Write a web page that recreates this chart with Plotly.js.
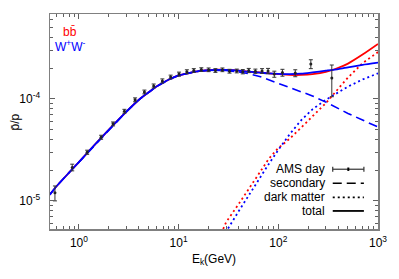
<!DOCTYPE html>
<html><head><meta charset="utf-8">
<script src="https://cdn.plot.ly/plotly-3.0.1.min.js"></script>
<style>html,body{margin:0;padding:0;background:#fff;}#chart{width:399px;height:279px;}</style>
</head><body><div id="chart"></div>
<script>
// AMS data (kinetic energy GeV, pbar/p ratio, error)
const amsE = [0.575, 0.857, 1.21, 1.67, 2.2, 2.86, 3.66, 4.54, 5.62, 6.87, 8.32, 10.1, 12.1, 14.2, 16.9, 20.0, 23.4, 27.5, 32.4, 38.3, 44.0, 50.5, 58.9, 68.7, 78.9, 91.2, 110, 148, 212, 344];
const amsR = [1.2e-5, 2.13e-5, 3.0e-5, 4.21e-5, 5.69e-5, 7.57e-5, 9.8e-5, 1.17e-4, 1.34e-4, 1.5e-4, 1.64e-4, 1.75e-4, 1.85e-4, 1.9e-4, 1.94e-4, 1.93e-4, 1.9e-4, 1.93e-4, 1.87e-4, 1.88e-4, 1.85e-4, 1.9e-4, 1.87e-4, 1.88e-4, 1.88e-4, 1.75e-4, 1.81e-4, 1.79e-4, 2.2e-4, 1.6e-4];
const amsErr = [2.0e-6, 1.6e-6, 1.4e-6, 1.9e-6, 2.5e-6, 3.3e-6, 4.3e-6, 5e-6, 6e-6, 7e-6, 7e-6, 8e-6, 8e-6, 8e-6, 8e-6, 8e-6, 8e-6, 8e-6, 8e-6, 8e-6, 9e-6, 9e-6, 9e-6, 1.0e-5, 1.1e-5, 1.2e-5, 1.4e-5, 1.4e-5, 2.2e-5, 5.5e-5];

// model curves
const curveE = [0.51, 0.6, 0.8, 1, 1.5, 2, 3, 4, 5, 6, 8, 10, 13, 16, 20, 25, 30, 40, 50, 65, 80, 100, 130, 170, 220, 300, 400, 500, 700, 1000];
const secondary = [1.15e-5, 1.4e-5, 1.9e-5, 2.4e-5, 3.7e-5, 5.0e-5, 7.5e-5, 9.8e-5, 1.16e-4, 1.32e-4, 1.55e-4, 1.7e-4, 1.8e-4, 1.87e-4, 1.91e-4, 1.92e-4, 1.9e-4, 1.84e-4, 1.77e-4, 1.66e-4, 1.55e-4, 1.42e-4, 1.29e-4, 1.17e-4, 1.07e-4, 9.3e-5, 8.0e-5, 7.2e-5, 6.2e-5, 5.3e-5];
const totalWW = [1.15e-5, 1.4e-5, 1.9e-5, 2.4e-5, 3.7e-5, 5.0e-5, 7.5e-5, 9.8e-5, 1.16e-4, 1.32e-4, 1.55e-4, 1.7e-4, 1.8e-4, 1.87e-4, 1.91e-4, 1.93e-4, 1.92e-4, 1.89e-4, 1.85e-4, 1.81e-4, 1.78e-4, 1.76e-4, 1.75e-4, 1.77e-4, 1.82e-4, 1.89e-4, 1.96e-4, 2.04e-4, 2.16e-4, 2.27e-4];
const totalBB = [1.15e-5, 1.4e-5, 1.9e-5, 2.4e-5, 3.7e-5, 5.0e-5, 7.5e-5, 9.8e-5, 1.16e-4, 1.32e-4, 1.55e-4, 1.7e-4, 1.8e-4, 1.87e-4, 1.91e-4, 1.935e-4, 1.925e-4, 1.89e-4, 1.85e-4, 1.82e-4, 1.78e-4, 1.75e-4, 1.72e-4, 1.72e-4, 1.75e-4, 1.84e-4, 2.02e-4, 2.22e-4, 2.72e-4, 3.46e-4];

const dmE = [28, 30, 40, 50, 65, 80, 100, 130, 170, 220, 300, 400, 500, 700, 1000];
const dmWW = [4.4e-6, 5.0e-6, 7.9e-6, 1.12e-5, 1.66e-5, 2.29e-5, 3.16e-5, 4.5e-5, 6.2e-5, 7.9e-5, 9.8e-5, 1.15e-4, 1.32e-4, 1.55e-4, 1.78e-4];
const dmBB = [5.3e-6, 6.2e-6, 9.3e-6, 1.29e-5, 1.9e-5, 2.57e-5, 3.3e-5, 4.07e-5, 5.25e-5, 6.76e-5, 9.1e-5, 1.26e-4, 1.62e-4, 2.24e-4, 2.88e-4];

const xTickVals = [1, 10, 100, 1000];
const xTickText = ['10<sup>0</sup>', '10<sup>1</sup>', '10<sup>2</sup>', '10<sup>3</sup>'];
const yTickVals = [1e-5, 1e-4];
const yTickText = ['10<sup>-5</sup>', '10<sup>-4</sup>'];
const legendLabels = ['AMS day', 'secondary', 'dark matter', 'total'];

function minorVals(d0, d1) {
  const out = [];
  for (let d = d0; d <= d1; d++) for (let m = 2; m <= 9; m++) out.push(m * Math.pow(10, d));
  return out;
}

const RED = '#ff0000', BLUE = '#0000ff';
const traces = [
  {x: curveE, y: totalBB, mode: 'lines', line: {color: RED, width: 1.8, shape: 'spline', smoothing: 0.6}},
  {x: dmE, y: dmBB, mode: 'lines', line: {color: RED, width: 1.8, dash: '2px,3px'}},
  {x: dmE, y: dmWW, mode: 'lines', line: {color: BLUE, width: 1.8, dash: '2px,3px'}},
  {x: curveE, y: secondary, mode: 'lines', line: {color: BLUE, width: 1.6, dash: '9px,5px'}},
  {x: curveE, y: totalWW, mode: 'lines', line: {color: BLUE, width: 1.8, shape: 'spline', smoothing: 0.6}},
  {x: amsE, y: amsR, mode: 'markers', marker: {color: '#222', size: 3},
   error_y: {type: 'data', array: amsErr, visible: true, color: '#333', thickness: 1, width: 2}}
];

const fnt = {family: 'Liberation Sans, Arial, sans-serif', size: 12, color: '#000'};
const axisCommon = {
  type: 'log', showgrid: false, zeroline: false, showline: true, mirror: 'allticks',
  linecolor: '#808080', linewidth: 1.5, ticks: 'inside', ticklen: 5, tickwidth: 1, tickcolor: '#606060',
  tickmode: 'array', tickfont: fnt
};

// legend (bottom right) drawn in paper coordinates
const rowsY = [0.278, 0.213, 0.147, 0.084];
const sx0 = 0.862, sx1 = 0.957;
const shapes = [];
const annotations = [];
legendLabels.forEach((t, i) => {
  annotations.push({xref: 'paper', yref: 'paper', x: 0.845, y: rowsY[i], text: t, showarrow: false,
    xanchor: 'right', yanchor: 'middle', font: fnt});
});
const lw = {color: '#333', width: 1.2};
shapes.push({type: 'line', xref: 'paper', yref: 'paper', x0: sx0, x1: sx1, y0: rowsY[0], y1: rowsY[0], line: lw});
shapes.push({type: 'line', xref: 'paper', yref: 'paper', x0: sx0, x1: sx0, y0: rowsY[0] - 0.012, y1: rowsY[0] + 0.012, line: lw});
shapes.push({type: 'line', xref: 'paper', yref: 'paper', x0: sx1, x1: sx1, y0: rowsY[0] - 0.012, y1: rowsY[0] + 0.012, line: lw});
shapes.push({type: 'line', xref: 'paper', yref: 'paper', x0: (sx0 + sx1) / 2, x1: (sx0 + sx1) / 2, y0: rowsY[0] - 0.008, y1: rowsY[0] + 0.008, line: {color: '#000', width: 2}});
shapes.push({type: 'line', xref: 'paper', yref: 'paper', x0: sx0, x1: sx1, y0: rowsY[1], y1: rowsY[1], line: {color: '#000', width: 1.6, dash: '9px,5px'}});
shapes.push({type: 'line', xref: 'paper', yref: 'paper', x0: sx0, x1: sx1, y0: rowsY[2], y1: rowsY[2], line: {color: '#000', width: 1.6, dash: '2px,3px'}});
shapes.push({type: 'line', xref: 'paper', yref: 'paper', x0: sx0, x1: sx1, y0: rowsY[3], y1: rowsY[3], line: {color: '#000', width: 1.8}});

annotations.push({xref: 'paper', yref: 'paper', x: 0.061, y: 0.916, text: 'bb\u0304', showarrow: false,
  xanchor: 'center', yanchor: 'middle', font: {family: fnt.family, size: 12, color: RED}});
annotations.push({xref: 'paper', yref: 'paper', x: 0.061, y: 0.851, text: 'W<sup>+</sup>W<sup>-</sup>', showarrow: false,
  xanchor: 'center', yanchor: 'middle', font: {family: fnt.family, size: 12, color: BLUE}});
// y-axis title placed as rotated annotation
annotations.push({xref: 'paper', yref: 'paper', x: -0.107, y: 0.5, text: 'p\u0304/p', textangle: -90, showarrow: false,
  xanchor: 'center', yanchor: 'middle', font: fnt});

const layout = {
  width: 399, height: 279,
  margin: {l: 50, r: 21, t: 14, b: 50},
  paper_bgcolor: '#fff', plot_bgcolor: '#fff',
  showlegend: false,
  font: fnt,
  xaxis: Object.assign({}, axisCommon, {
    range: [-0.29, 3.0], tickvals: xTickVals, ticktext: xTickText, ticklabelstandoff: 2,
    minor: {tickmode: 'array', tickvals: minorVals(-1, 2), ticks: 'inside', ticklen: 3, tickcolor: '#606060'},
    title: {text: 'E<sub>k</sub>(GeV)', font: fnt, standoff: 5}
  }),
  yaxis: Object.assign({}, axisCommon, {
    range: [Math.log10(5.3e-6), Math.log10(6.8e-4)], tickvals: yTickVals, ticktext: yTickText, ticklabelstandoff: 6,
    minor: {tickmode: 'array', tickvals: minorVals(-6, -4), ticks: 'inside', ticklen: 3, tickcolor: '#606060'}
  }),
  shapes: shapes,
  annotations: annotations
};

Plotly.newPlot('chart', traces, layout, {displayModeBar: false, staticPlot: true});
</script>
</body></html>
